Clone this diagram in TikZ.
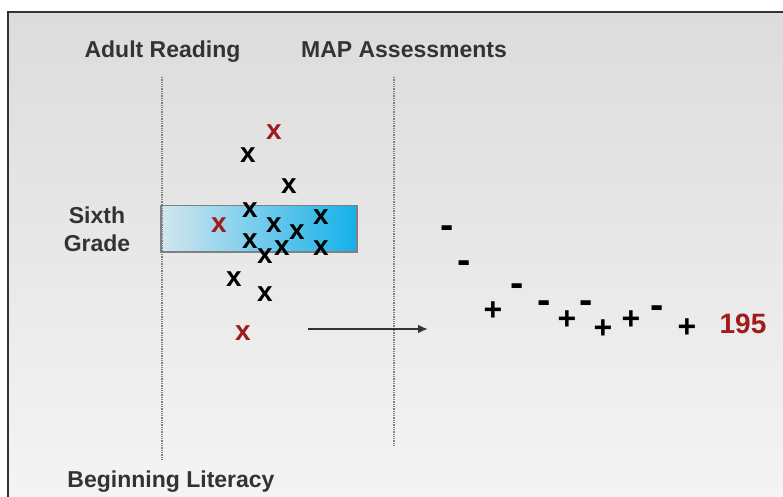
\documentclass[tikz,border=0pt]{standalone}
\usepackage{fontspec}
\setmainfont{Liberation Sans}
\usetikzlibrary{arrows.meta}
\definecolor{darkred}{HTML}{A01C1C}
\definecolor{labelgray}{HTML}{333333}
\definecolor{boxblue}{HTML}{14B1E9}
\definecolor{boxlight}{HTML}{D3E6EE}
\definecolor{bgtop}{HTML}{DCDCDC}
\definecolor{bgbottom}{HTML}{F4F4F4}
\begin{document}
\begin{tikzpicture}[x=1pt,y=-1pt,
    heading/.style={font=\fontsize{23}{28}\selectfont\bfseries,text=labelgray,inner sep=0pt},
    xmark/.style={font=\fontsize{28}{28}\selectfont\bfseries,anchor=base,inner sep=0pt,yshift=-7.3pt},
    redx/.style={xmark,text=darkred},
    plussign/.style={font=\fontsize{32}{32}\selectfont\bfseries,anchor=base,inner sep=0pt,yshift=-11.4pt},
    minussign/.style={font=\fontsize{40}{40}\selectfont\bfseries,anchor=base,inner sep=0pt,yshift=-10.6pt},
    guide/.style={densely dotted,gray,line width=1.3pt}]
  \useasboundingbox (0,0) rectangle (783,497);
  % background and frame
  \fill[top color=bgtop,bottom color=bgbottom] (8,12) rectangle (783,497);
  \draw[line width=2pt,labelgray] (8,497) -- (8,12) -- (783,12);
  % headings
  \node[heading,anchor=base] (adult) at (162.5,58) {Adult Reading};
  \node[heading,anchor=base] (map) at (404,58) {MAP Assessments};
  \node[heading,align=center] (grade) at (97,229) {Sixth\\Grade};
  \node[heading,anchor=base] (begin) at (171,487) {Beginning Literacy};
  % sixth grade band
  \node[draw=gray,line width=1.2pt,left color=boxlight,right color=boxblue,
        minimum width=196,minimum height=46.5,inner sep=0pt] (band) at (259,228.75) {};
  \draw[guide] (162,77) -- (162,460);
  \draw[guide] (394,77) -- (394,447);
  % scores
  \foreach \px/\py [count=\i] in {248/155,289/186,250/210,274/225,297/232,321/217,
      250/241,282/248,265/256,321/248,234/279,265/294}
    \node[xmark] (bx\i) at (\px,\py) {x};
  \foreach \px/\py [count=\i] in {274/132,219/225,243/333}
    \node[redx] (rx\i) at (\px,\py) {x};
  % arrow to the test results
  \coordinate (arrtail) at (308,329);
  \coordinate (arrhead) at (428,329);
  \draw[-{Latex[length=10pt,width=9pt]},line width=2pt,labelgray] (arrtail) -- (arrhead);
  \foreach \px/\py [count=\i] in {447/228,464/263,517/286,544/303,586/303,657/308}
    \node[minussign] (m\i) at (\px,\py) {-};
  \foreach \px/\py [count=\i] in {493/309,567/318,603/327,631/318,687/326}
    \node[plussign] (p\i) at (\px,\py) {+};
  \node[font=\fontsize{28}{28}\selectfont\bfseries,text=darkred,anchor=base,inner sep=0pt,yshift=-10pt]
    (score) at (743,323) {195};
\end{tikzpicture}
\end{document}
